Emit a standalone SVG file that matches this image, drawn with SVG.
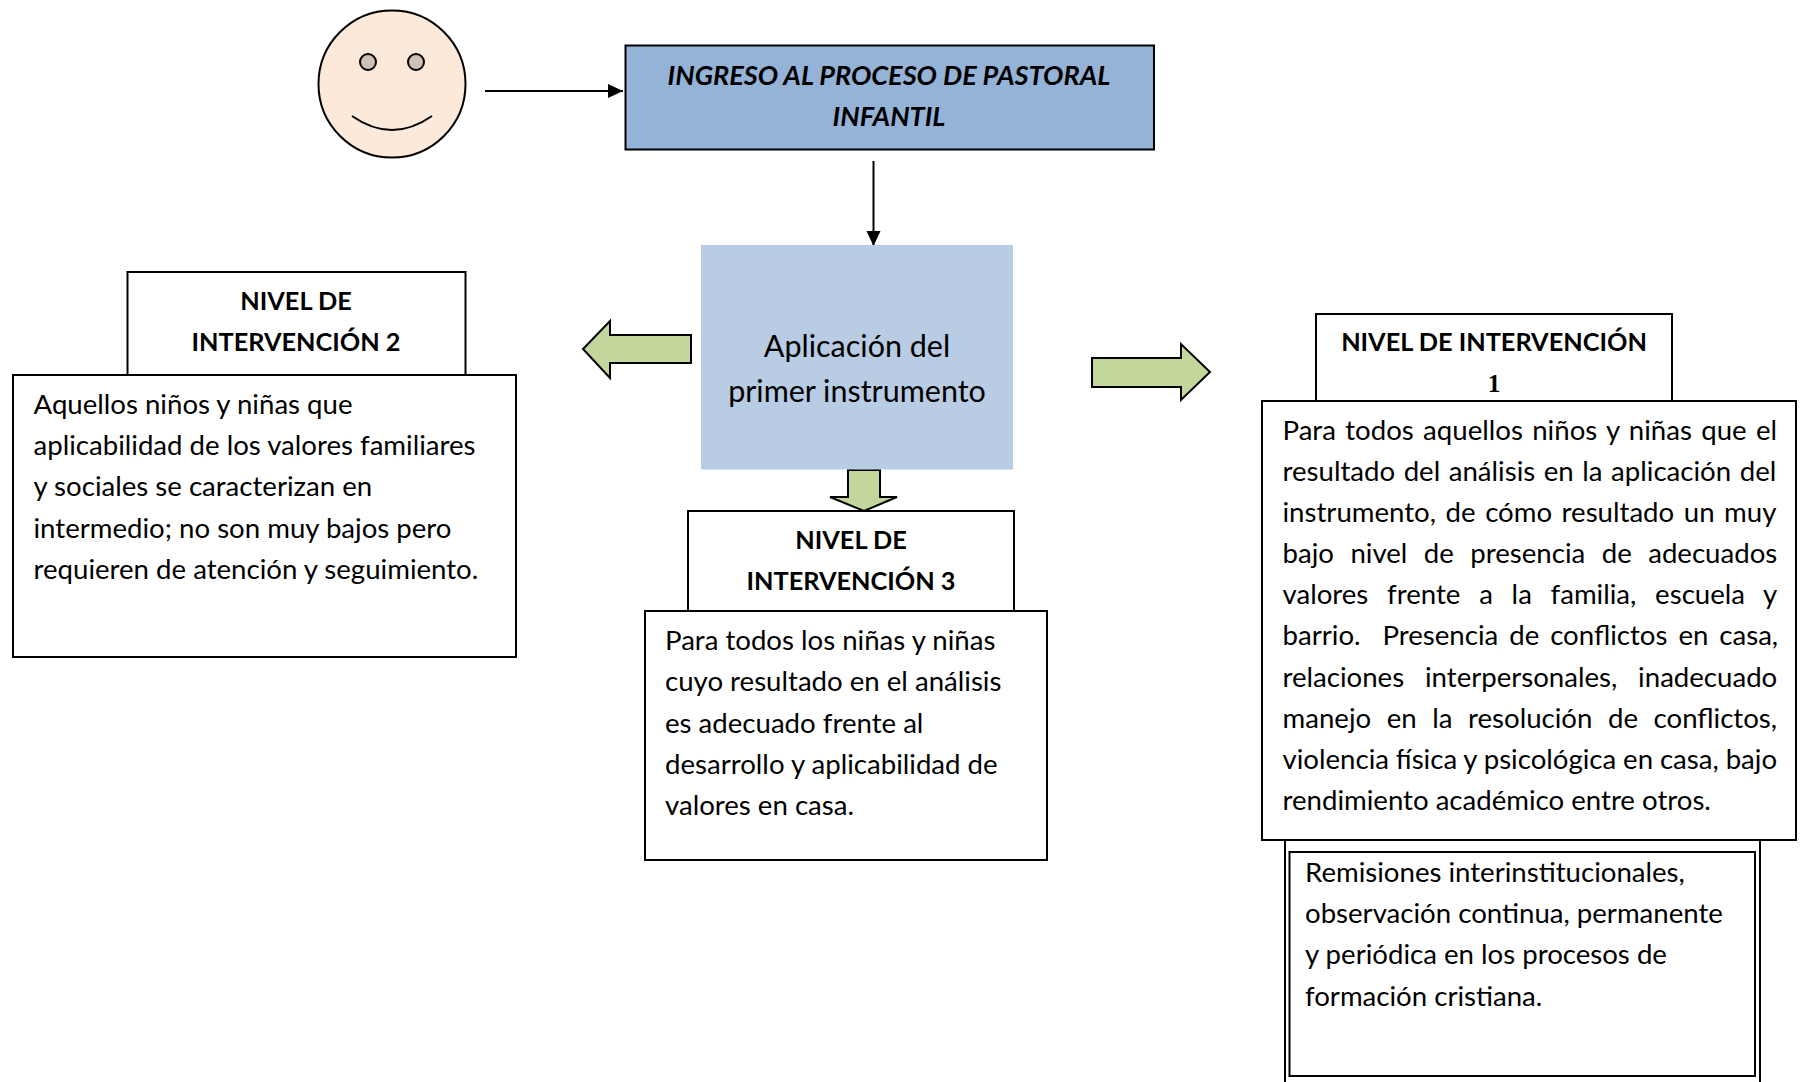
<svg xmlns="http://www.w3.org/2000/svg" width="1802" height="1082" viewBox="0 0 1802 1082">
<defs>
<marker id="ah" markerUnits="userSpaceOnUse" markerWidth="16" markerHeight="16" refX="15" refY="8" orient="auto"><path d="M0,1 L15,8 L0,15 Z" fill="#000"/></marker>
</defs>
<style>
text{font-family:"Lato","Liberation Sans",sans-serif;fill:#000}
.b{fill:#fff;stroke:#000;stroke-width:2}
.g{fill:#c3d69b;stroke:#000;stroke-width:2}
.t{font-size:27.6px}
.h{font-size:25.3px;font-weight:700;text-anchor:middle}
.c{stroke:#000;stroke-width:2;fill:none;marker-end:url(#ah)}
</style>
<g id="connectors">
<line class="c" x1="485" y1="91" x2="623" y2="91"/>
<line class="c" x1="873.500" y1="161" x2="873.500" y2="246"/>
<path id="arrow-left" class="g" d="M691,335 H610 V321 L583,349 L610,378 V363 H691 Z"/>
<path id="arrow-right" class="g" d="M1092,358 H1181 V344 L1210,372 L1181,400 V387 H1092 Z"/>
<path id="arrow-down" class="g" d="M848,470 H880 V497 H897 L864,511 L830,497 H848 Z"/>
</g>
<g id="face">
<circle cx="392" cy="84" r="73.500" fill="#fde9d9" stroke="#000" stroke-width="2"/>
<circle cx="368" cy="62" r="8" fill="#cdc1b5" stroke="#000" stroke-width="2"/>
<circle cx="416" cy="62" r="8" fill="#cdc1b5" stroke="#000" stroke-width="2"/>
<path d="M352,116 Q392,144 432,116" fill="none" stroke="#000" stroke-width="2"/>
</g>
<g id="ingreso">
<rect x="625.500" y="45.500" width="528.500" height="104" fill="#95b3d7" stroke="#000" stroke-width="2"/>
<text class="h" x="889" y="84.500" font-style="italic" style="font-size:27.1px">INGRESO AL PROCESO DE PASTORAL</text>
<text class="h" x="889" y="125.500" font-style="italic" style="font-size:27.1px">INFANTIL</text>
</g>
<g id="aplicacion">
<rect x="701" y="245" width="312" height="224.500" fill="#b8cce4"/>
<text x="857" y="357" font-size="30.500" text-anchor="middle">Aplicación del</text>
<text x="857" y="402" font-size="30.500" text-anchor="middle">primer instrumento</text>
</g>
<g id="nivel2">
<rect class="b" x="127.500" y="272" width="338" height="103"/>
<text class="h" x="296" y="309.500">NIVEL DE</text>
<text class="h" x="296" y="351">INTERVENCIÓN 2</text>
<rect class="b" x="13" y="375" width="503" height="282"/>
<text class="t" x="33.500" y="414">Aquellos niños y niñas que</text>
<text class="t" x="33.500" y="455">aplicabilidad de los valores familiares</text>
<text class="t" x="33.500" y="496">y sociales se caracterizan en</text>
<text class="t" x="33.500" y="537.500">intermedio; no son muy bajos pero</text>
<text class="t" x="33.500" y="578.500">requieren de atención y seguimiento.</text>
</g>
<g id="nivel3">
<rect class="b" x="688" y="511" width="326" height="100"/>
<text class="h" x="851" y="549">NIVEL DE</text>
<text class="h" x="851" y="590">INTERVENCIÓN 3</text>
<rect class="b" x="645" y="611" width="402" height="249"/>
<text class="t" x="665" y="649.500">Para todos los niñas y niñas</text>
<text class="t" x="665" y="690.500">cuyo resultado en el análisis</text>
<text class="t" x="665" y="732.500">es adecuado frente al</text>
<text class="t" x="665" y="773.500">desarrollo y aplicabilidad de</text>
<text class="t" x="665" y="814.500">valores en casa.</text>
</g>
<g id="nivel1">
<rect class="b" x="1316" y="314" width="356" height="87"/>
<text class="h" x="1494" y="351">NIVEL DE INTERVENCIÓN</text>
<text class="h" x="1494" y="392" style="font-family:'Liberation Serif',serif">1</text>
<rect class="b" x="1262" y="401" width="534" height="439"/>
<text class="t" x="1282.500" y="440" word-spacing="2.300">Para todos aquellos niños y niñas que el</text>
<text class="t" x="1282.500" y="481" word-spacing="1.500">resultado del análisis en la aplicación del</text>
<text class="t" x="1282.500" y="522" word-spacing="2.500">instrumento, de cómo resultado un muy</text>
<text class="t" x="1282.500" y="563" word-spacing="9.400">bajo nivel de presencia de adecuados</text>
<text class="t" x="1282.500" y="604" word-spacing="11.700">valores frente a la familia, escuela y</text>
<text class="t" x="1282.500" y="645" word-spacing="3.900">barrio.&#160; Presencia de conflictos en casa,</text>
<text class="t" x="1282.500" y="687" word-spacing="13.800">relaciones interpersonales, inadecuado</text>
<text class="t" x="1282.500" y="728" word-spacing="8.500">manejo en la resolución de conflictos,</text>
<text class="t" x="1282.500" y="769" word-spacing="-0.200">violencia física y psicológica en casa, bajo</text>
<text class="t" x="1282.500" y="810">rendimiento académico entre otros.</text>
</g>
<g id="remisiones">
<path d="M1285,840 V1082 M1760,840 V1082" fill="none" stroke="#000" stroke-width="2"/>
<rect x="1289.500" y="852" width="465.500" height="224" fill="#fff" stroke="#000" stroke-width="2"/>
<text class="t" x="1305" y="882">Remisiones interinstitucionales,</text>
<text class="t" x="1305" y="923">observación continua, permanente</text>
<text class="t" x="1305" y="964">y periódica en los procesos de</text>
<text class="t" x="1305" y="1006">formación cristiana.</text>
</g>
</svg>
